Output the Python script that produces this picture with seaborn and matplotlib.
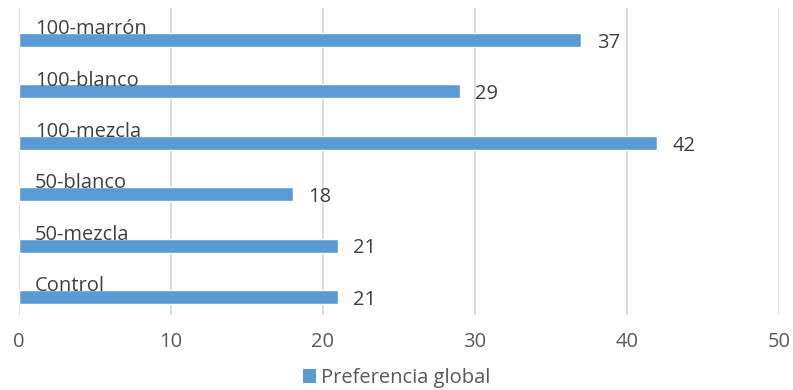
import matplotlib
matplotlib.use("Agg")
import matplotlib.pyplot as plt
import seaborn as sns
import pandas as pd
from matplotlib.patches import Patch

categories = ["100-marrón", "100-blanco", "100-mezcla", "50-blanco", "50-mezcla", "Control"]
values = [37, 29, 42, 18, 21, 21]
series_name = "Preferencia global"
x_ticks = [0, 10, 20, 30, 40, 50]

sns.set_theme(style="white")
plt.rcParams['font.family'] = ['Open Sans', 'DejaVu Sans']

BAR = "#5B9BD5"
TXT = "#404040"
TICK = "#595959"
GRID = "#D9D9D9"
FS = 14.5

df = pd.DataFrame({"cat": categories, "val": values})

fig = plt.figure(figsize=(7.93, 3.90), dpi=100)
ax = fig.add_axes([19/793, 75/390, 760/793, 307/390])

sns.barplot(data=df, x="val", y="cat", order=categories, orient="h",
            color=BAR, width=0.27, saturation=1, ax=ax)

ax.set_xlim(0, 50)
ax.set_ylim(5.35, -0.62)
ax.set_xticks(x_ticks)
ax.set_xticklabels([str(t) for t in x_ticks], color=TICK, fontsize=FS)
ax.tick_params(axis="x", length=0, pad=12)
ax.set_yticks([])
ax.set_xlabel("")
ax.set_ylabel("")
for s in ax.spines.values():
    s.set_visible(False)
ax.grid(axis="x", color=GRID, linewidth=1.3)
ax.set_axisbelow(True)

for i, (c, v) in enumerate(zip(categories, values)):
    ax.text(1.05, i - 0.21, c, ha="left", va="center", fontsize=FS, color=TXT)
    ax.annotate(str(v), xy=(v, i), xytext=(11, -2), textcoords="offset points",
                ha="left", va="center", fontsize=FS, color=TXT)

handle = Patch(facecolor=BAR, edgecolor="none")
fig.legend([handle], [series_name], loc="center", bbox_to_anchor=(0.5, 12/390),
           frameon=False, fontsize=FS, handlelength=0.65, handleheight=0.65,
           handletextpad=0.25, labelcolor=TICK)

fig.savefig("out.png", dpi=100)
